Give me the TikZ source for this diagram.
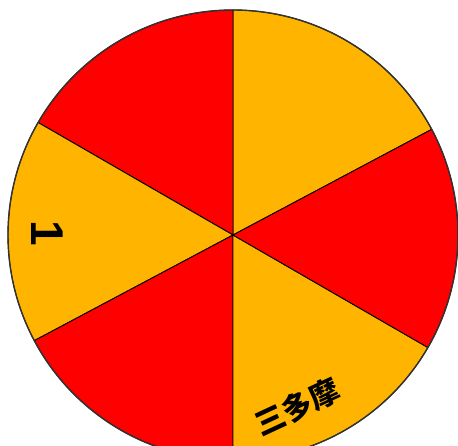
\documentclass[tikz,border=0pt]{standalone}
\usepackage{fontspec}
\newfontfamily\cjk{Noto Sans CJK JP}
\newfontfamily\latinsans{Liberation Sans}
\definecolor{secorange}{RGB}{255,180,0}
\definecolor{secred}{RGB}{255,0,0}
\begin{document}
\begin{tikzpicture}[x=1pt,y=1pt,
  sector/.style={draw=black,line width=0.9pt,line join=round},
  lbl/.style={text=black,inner sep=0pt}]
\useasboundingbox (0,0) rectangle (458,445);
\coordinate (c) at (233,210);
\def\R{225}
\foreach \a/\b/\col in {28/90/secorange,90/150/secred,150/208/secorange,208/270/secred,270/330/secorange,330/388/secred}{
  \filldraw[sector,fill=\col] (c) -- ++(\a:\R) arc[start angle=\a,end angle=\b,radius=\R] -- cycle;
}
\draw[line width=1.4pt,draw=black!80] (c) circle[radius=\R];
\node[lbl,font=\latinsans\bfseries\fontsize{46}{46}\selectfont,rotate=-90] (one) at (47,212) {1};
\node[lbl,font=\cjk\bfseries\fontsize{30}{30}\selectfont,rotate=25] (santama) at (297,38) {三多摩};
\end{tikzpicture}
\end{document}
